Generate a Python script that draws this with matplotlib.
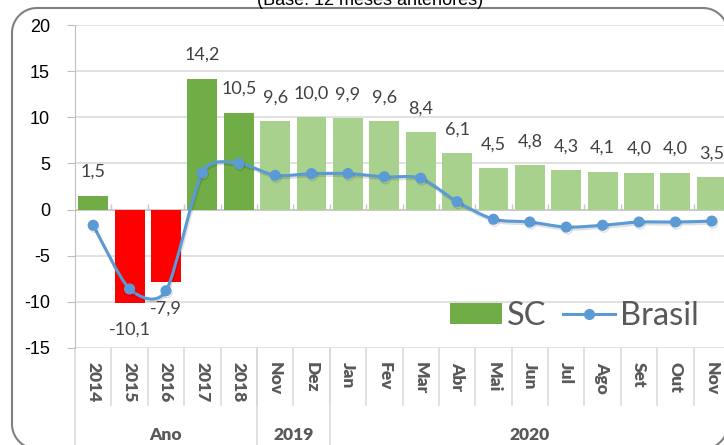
import matplotlib
matplotlib.use('Agg')
import matplotlib.pyplot as plt
import matplotlib.patheffects as pe
from matplotlib.path import Path
from matplotlib.patches import PathPatch
from matplotlib.lines import Line2D
from matplotlib.transforms import IdentityTransform
import numpy as np

plt.rcParams['axes.unicode_minus'] = False

# dados
categorias = ['2014', '2015', '2016', '2017', '2018', 'Nov', 'Dez', 'Jan', 'Fev', 'Mar',
              'Abr', 'Mai', 'Jun', 'Jul', 'Ago', 'Set', 'Out', 'Nov']
sc = [1.5, -10.1, -7.9, 14.2, 10.5, 9.6, 10.0, 9.9, 9.6, 8.4, 6.1, 4.5, 4.8, 4.3, 4.1, 4.0, 4.0, 3.5]
brasil = [-1.7, -8.6, -8.8, 4.0, 5.0, 3.7, 3.9, 3.9, 3.55, 3.4, 0.85, -1.05, -1.35, -1.9, -1.7,
          -1.35, -1.35, -1.25]
grupos = ['Ano', '2019', '2020']
grupo_ini = [0, 5, 7]
grupo_fim = [4, 6, 17]
n_anuais = 5

W, H = 724, 445
fig = plt.figure(figsize=(W / 100, H / 100), dpi=100)

def fx(px):
    return px / W

def fy(py):
    return 1 - py / H

# moldura arredondada, em pixels (parte dela fica fora da imagem, como no original)
r = 25
x0, x1, yb, yt = 12, 728, -4, 437
mx, my = [], []
for (cx, cy, a0) in [(x1 - r, yt - r, 0), (x0 + r, yt - r, 90), (x0 + r, yb + r, 180),
                     (x1 - r, yb + r, 270)]:
    th = np.radians(np.linspace(a0, a0 + 90, 20))
    mx += list(cx + r * np.cos(th))
    my += list(cy + r * np.sin(th))
mx.append(mx[0])
my.append(my[0])
fig.add_artist(Line2D(mx, my, transform=IdentityTransform(), color='#808080', lw=1.5))

ax = fig.add_axes([fx(75), fy(348), fx(655), 323 / H])
ax.patch.set_visible(False)
x = np.arange(len(categorias))

cores = []
for i, v in enumerate(sc):
    if i < n_anuais:
        cores.append('#FF0000' if v < 0 else '#70AD47')
    else:
        cores.append('#A9D18E')

barras = ax.bar(x, sc, width=0.82, color=cores, zorder=2, label='SC')

ax.set_xlim(-0.5, len(categorias) - 0.5)
ax.set_ylim(-15, 20)
ax.set_yticks(np.arange(-15, 21, 5))
ax.yaxis.grid(True, color='#D9D9D9', lw=1.1, zorder=0)
ax.set_axisbelow(True)
ax.axhline(0, color='#C8C8C8', lw=1.2, zorder=1)
ax.vlines(x[:-1] + 0.5, 0, 0.65, color='#C8C8C8', lw=1, zorder=1)

for s in ['top', 'right', 'bottom']:
    ax.spines[s].set_visible(False)
ax.spines['left'].set_color('#BFBFBF')
ax.tick_params(axis='y', length=6, color='#BFBFBF', pad=12, labelsize=13)
for t in ax.get_yticklabels():
    t.set_fontfamily('Liberation Sans')

ax.set_xticks(x)
ax.set_xticklabels(categorias, rotation=270, fontfamily='Lato', fontweight='heavy',
                   fontsize=12.5, color='#595959')
ax.tick_params(axis='x', length=0, pad=10)

# rotulos das barras
for xi, v in zip(x, sc):
    txt = f'{v:.1f}'.replace('.', ',')
    off = 17 if v >= 0 else -19
    ax.annotate(txt, (xi, v), xytext=(0, off), textcoords='offset points',
                ha='center', va='center', fontsize=13, fontfamily='Lato', color='#404040')

# linha suavizada Brasil
pts = np.column_stack([x, brasil]).astype(float)
k = 0.13
verts = [pts[0]]
codes = [Path.MOVETO]
n = len(pts)
for i in range(n - 1):
    p0 = pts[max(i - 1, 0)]
    p1 = pts[i]
    p2 = pts[i + 1]
    p3 = pts[min(i + 2, n - 1)]
    verts += [p1 + (p2 - p0) * k, p2 - (p3 - p1) * k, p2]
    codes += [Path.CURVE4] * 3
azul = '#5B9BD5'
sombra = [pe.SimpleLineShadow(offset=(0.8, -1.5), shadow_color='black', alpha=0.12), pe.Normal()]
curva = PathPatch(Path(verts, codes), fill=False, edgecolor=azul, lw=2.2, zorder=3,
                  path_effects=sombra)
ax.add_patch(curva)
ax.plot(x, brasil, 'o', color=azul, ms=7, zorder=4, path_effects=sombra)

# eixo de categorias em dois niveis
tr = ax.get_xaxis_transform()
h = 323.0
for b in x[:-1] + 0.5:
    ax.plot([b, b], [0, -(405 - 348) / h], color='#D9D9D9', lw=1.1, transform=tr, clip_on=False)
for b in [-0.5] + [g - 0.5 for g in grupo_ini[1:]]:
    ax.plot([b, b], [0, -(445 - 348) / h], color='#D9D9D9', lw=1.1, transform=tr, clip_on=False)
for nome, a, b in zip(grupos, grupo_ini, grupo_fim):
    ax.text((a + b) / 2, -(435 - 348) / h, nome, transform=tr, ha='center', va='center',
            fontsize=12.5, fontfamily='Lato', fontweight='heavy', color='#595959')

# legenda
h_brasil = Line2D([], [], color=azul, lw=2.2, marker='o', ms=7)
leg = ax.legend([barras, h_brasil], ['SC', 'Brasil'], ncol=2, frameon=False,
                loc='center left', bbox_to_anchor=(fx(450), fy(316)),
                bbox_transform=fig.transFigure, borderaxespad=0, borderpad=0,
                handlelength=1.6, handleheight=0.65, handletextpad=0.15, columnspacing=0.5,
                prop={'family': 'Lato', 'size': 23.5})
for t in leg.get_texts():
    t.set_color('#595959')

# titulo (cortado no topo, como na imagem original)
fig.text(fx(370), fy(5), '(Base: 12 meses anteriores)', ha='center', va='baseline',
         fontsize=13, fontfamily='Liberation Sans', color='black')

fig.savefig('out.png', dpi=100)
